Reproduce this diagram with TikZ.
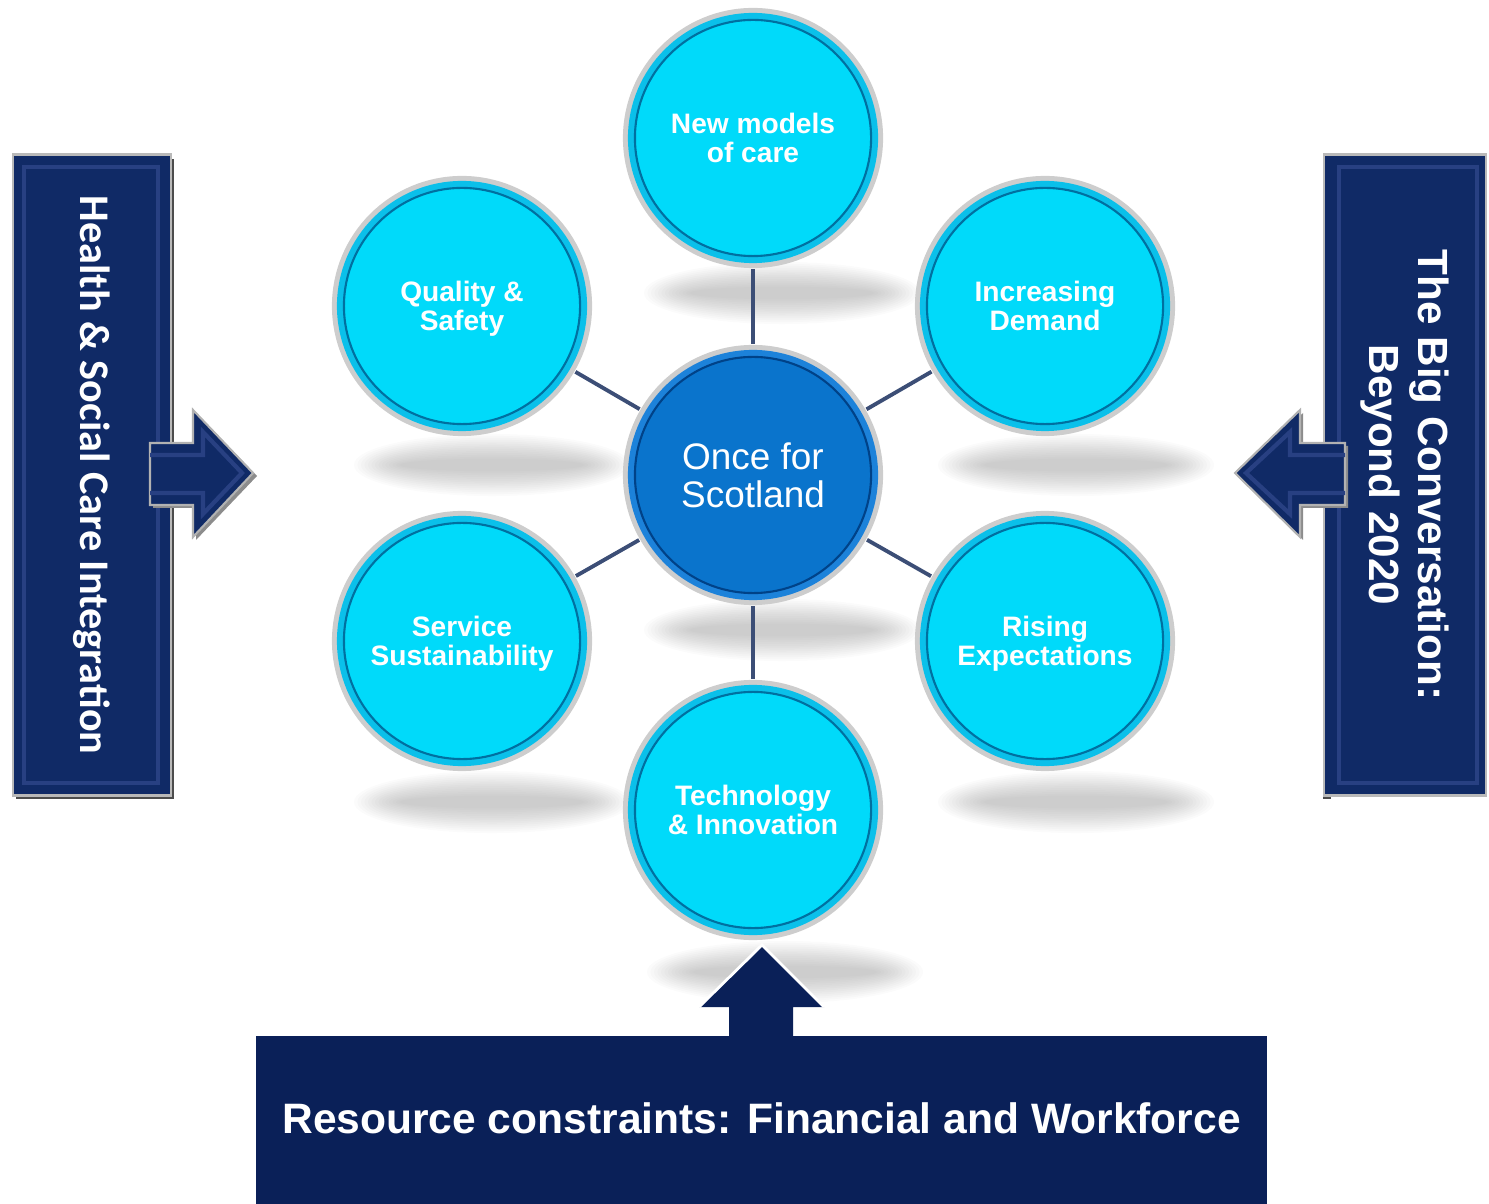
\documentclass[tikz,border=0pt]{standalone}
\usepackage{fontspec}
\setmainfont{Liberation Sans}
\newfontfamily\carlitofont{Carlito}
\usetikzlibrary{arrows,shapes,positioning}
\definecolor{topicCyan}{RGB}{0,218,250}
\definecolor{topicEdge}{RGB}{10,192,234}
\definecolor{topicLine}{RGB}{0,112,160}
\definecolor{hubBlue}{RGB}{10,116,204}
\definecolor{hubEdge}{RGB}{28,130,218}
\definecolor{hubLine}{RGB}{0,66,136}
\definecolor{ringSilver}{RGB}{205,205,205}
\definecolor{spokeBlue}{RGB}{60,78,118}
\definecolor{navy}{RGB}{16,42,102}
\definecolor{navyLight}{RGB}{40,64,130}
\definecolor{navyDark}{RGB}{10,32,88}
\tikzstyle{topic}=[circle, minimum size=2.36cm, inner sep=0pt, text depth=0pt, fill=topicCyan, draw=topicLine, line width=0.6pt, text=white, align=center, font=\bfseries\fontsize{8}{8.3}\selectfont, preaction={draw=ringSilver, line width=0.24cm}, preaction={draw=topicEdge, line width=0.14cm}]
\tikzstyle{hub}=[circle, minimum size=2.36cm, inner sep=0pt, fill=hubBlue, draw=hubLine, line width=0.6pt, text=white, align=center, font=\fontsize{10.5}{10.8}\selectfont, preaction={draw=ringSilver, line width=0.24cm}, preaction={draw=hubEdge, line width=0.14cm}]
\tikzstyle{spoke}=[spokeBlue, line width=1.1pt, shorten <=0.12cm, shorten >=0.12cm]
\tikzstyle{shadowlayer}=[black, opacity=0.016]
\tikzstyle{sidebar}=[rectangle, fill=navy, draw=gray!55, line width=0.8pt, text=white, rotate=-90, minimum width=6.4cm, align=center]
\tikzstyle{bevel}=[navyLight, line width=1.2pt]
\tikzstyle{sidearrow}=[fill=navy, draw=gray!60, line width=0.6pt]

\begin{document}
\begin{tikzpicture}[x=0.01cm, y=-0.01cm]
    \useasboundingbox (0,0) rectangle (1489,1204);

    % shadows
    \foreach \sx/\sy in {782/293, 492/465, 1076/465, 782/630, 492/802, 1076/802, 785/972}
        \foreach \s in {0,...,13}
            \fill[shadowlayer] (\sx,\sy) ellipse [x radius={1.38cm-\s*0.035cm}, y radius={0.31cm-\s*0.019cm}];

    % side bars
    \fill[black!70] (16,159) rectangle (174,799);
    \node[sidebar, minimum height=1.58cm, font=\carlitofont\bfseries\fontsize{12}{14}\selectfont] (hsci) at (92,475) {Health \& Social Care Integration};
    \draw[bevel] (24,167) rectangle (158,783);
    \fill[black!70] (1323,159) rectangle (1331,799);
    \node[sidebar, minimum height=1.62cm, font=\bfseries\fontsize{12}{14}\selectfont] (bigconv) at (1405,475) {The Big Conversation:\\Beyond 2020};
    \draw[bevel] (1339,167) rectangle (1477,783);

    % side arrows
    \fill[black!45] (153,446) -- (196,446) -- (196,413) -- (257,476) -- (196,540) -- (196,508) -- (153,508) -- cycle;
    \draw[sidearrow] (150,443) -- (193,443) -- (193,410) -- (253,473) -- (193,537) -- (193,505) -- (150,505) -- cycle;
    \draw[bevel] (150,455) -- (203,455) -- (203,432) -- (242,473) -- (203,514) -- (203,493) -- (150,493);
    \fill[black!45] (1348,446) -- (1303,446) -- (1303,413) -- (1238,476) -- (1303,540) -- (1303,508) -- (1348,508) -- cycle;
    \draw[sidearrow] (1345,443) -- (1300,443) -- (1300,410) -- (1235,473) -- (1300,537) -- (1300,505) -- (1345,505) -- cycle;
    \draw[bevel] (1345,455) -- (1290,455) -- (1290,432) -- (1246,473) -- (1290,514) -- (1290,493) -- (1345,493);

    % bottom box
    \node[rectangle, fill=navyDark, minimum width=10.11cm, minimum height=1.68cm, inner sep=0pt, text=white, font=\bfseries\fontsize{12.1}{14}\selectfont] (resource) at (761.5,1120) {\raisebox{1pt}{Resource constraints: Financial and Workforce}};
    \fill[navyDark] (729,1040) -- (729,1007) -- (699,1007) -- (762,945) -- (824,1007) -- (793,1007) -- (793,1040) -- cycle;
    \draw[white, line width=0.8pt] (699,1007) -- (762,945) -- (824,1007);

    % circles
    \node[hub] (hub) at (753,475) {Once for\\Scotland};
    \node[topic] (newmodels) at (753,138) {New models\\of care};
    \node[topic] (quality) at (462,306) {Quality \&\\Safety};
    \node[topic] (demand) at (1045,306) {Increasing\\Demand};
    \node[topic] (service) at (462,641) {Service\\Sustainability};
    \node[topic] (rising) at (1045,641) {Rising\\Expectations};
    \node[topic] (technology) at (753,810) {Technology\\\& Innovation};

    % spokes
    \foreach \t in {newmodels, quality, demand, service, rising, technology}
        \draw[spoke] (hub) -- (\t);

\end{tikzpicture}
\end{document}
